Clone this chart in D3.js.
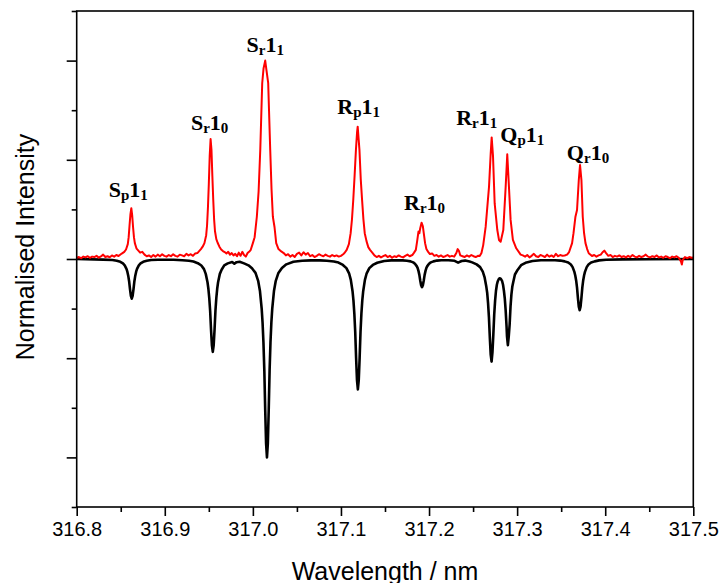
<!DOCTYPE html>
<html>
<head>
<meta charset="utf-8">
<script src="https://cdn.jsdelivr.net/npm/d3@7"></script>
<style>
  html, body { margin: 0; padding: 0; background: #fff; }
  svg { display: block; }
</style>
</head>
<body>
<svg id="chart" width="721" height="583"></svg>
<script>
// Measured OH emission trace, [wavelength nm, normalised intensity]
const measuredTrace = [
  [316.800,0.005],[316.8025,0.010],[316.805,0.004],[316.8075,0.012],[316.810,0.008],[316.8125,0.014],[316.815,0.006],[316.8175,0.012],[316.820,0.010],[316.8225,0.016],[316.825,0.007],[316.8275,0.013],[316.830,0.022],[316.8325,0.010],[316.835,0.014],[316.8375,0.009],[316.840,0.018],[316.8425,0.012],[316.845,0.020],[316.8475,0.015],[316.850,0.024],
  [316.852,0.030],[316.854,0.036],[316.856,0.048],[316.858,0.075],[316.859,0.110],[316.860,0.170],[316.861,0.225],[316.862,0.256],[316.863,0.220],[316.864,0.160],[316.865,0.110],[316.866,0.080],[316.868,0.052],[316.870,0.042],[316.872,0.032],[316.8745,0.036],[316.877,0.022],[316.8795,0.014],
  [316.882,0.018],[316.8845,0.010],[316.887,0.020],[316.8895,0.012],[316.892,0.022],[316.8945,0.014],[316.897,0.024],[316.8995,0.016],[316.902,0.012],[316.9045,0.020],[316.907,0.014],[316.9095,0.024],[316.912,0.016],[316.9145,0.012],[316.917,0.022],[316.9195,0.018],[316.922,0.014],[316.9245,0.026],[316.927,0.018],[316.9295,0.024],[316.932,0.016],[316.9345,0.028],[316.937,0.030],[316.939,0.040],
  [316.941,0.050],[316.943,0.062],[316.945,0.080],[316.947,0.120],[316.948,0.170],[316.949,0.260],[316.950,0.380],[316.951,0.520],[316.952,0.605],[316.953,0.550],[316.954,0.420],[316.955,0.300],[316.956,0.200],[316.957,0.140],[316.9585,0.100],[316.960,0.082],[316.962,0.062],[316.964,0.048],[316.966,0.040],
  [316.968,0.035],[316.970,0.028],[316.972,0.036],[316.974,0.022],[316.976,0.030],[316.978,0.018],[316.980,0.026],[316.982,0.014],[316.984,0.032],[316.986,0.016],[316.988,0.036],[316.990,0.020],[316.992,0.012],[316.994,0.030],[316.996,0.038],
  [316.9975,0.045],[317.000,0.080],[317.002,0.110],[317.0045,0.213],[317.0065,0.340],[317.0084,0.550],[317.0106,0.886],[317.0121,0.960],[317.0140,1.000],[317.0155,0.950],[317.0174,0.886],[317.0197,0.550],[317.0212,0.350],[317.0227,0.213],[317.0246,0.160],[317.0265,0.080],[317.0291,0.050],[317.0322,0.038],
  [317.035,0.030],[317.0375,0.018],[317.040,0.024],[317.0425,0.012],[317.045,0.020],[317.0475,0.010],[317.050,0.026],[317.0525,0.032],[317.055,0.018],[317.0575,0.034],[317.060,0.022],[317.0625,0.030],[317.065,0.014],[317.0675,0.020],[317.070,0.010],[317.0725,0.016],[317.075,0.024],[317.0775,0.018],[317.080,0.014],[317.0825,0.022],[317.085,0.016],[317.0875,0.012],[317.090,0.020],[317.0925,0.014],[317.095,0.018],[317.0975,0.012],[317.100,0.016],[317.1025,0.024],
  [317.104,0.030],[317.1065,0.046],[317.109,0.075],[317.111,0.130],[317.1125,0.200],[317.114,0.300],[317.1155,0.420],[317.117,0.550],[317.1183,0.640],[317.119,0.667],[317.1198,0.620],[317.121,0.550],[317.1225,0.400],[317.124,0.297],[317.1255,0.200],[317.127,0.130],[317.129,0.090],[317.131,0.060],[317.133,0.046],[317.136,0.030],
  [317.138,0.018],[317.1405,0.010],[317.143,0.016],[317.1455,0.008],[317.148,0.014],[317.1505,0.020],[317.153,0.010],[317.1555,0.016],[317.158,0.006],[317.1605,0.014],[317.163,0.010],[317.1655,0.018],[317.168,0.012],[317.1705,0.008],[317.173,0.016],[317.1755,0.022],[317.178,0.014],[317.181,0.020],
  [317.183,0.032],[317.185,0.046],[317.1865,0.090],[317.188,0.138],[317.189,0.130],[317.190,0.155],[317.1915,0.183],[317.193,0.165],[317.194,0.130],[317.1955,0.080],[317.197,0.050],[317.199,0.036],[317.201,0.025],[317.2035,0.028],[317.206,0.016],
  [317.2085,0.020],[317.211,0.012],[317.2135,0.018],[317.216,0.010],[317.2185,0.014],[317.221,0.020],[317.2235,0.012],[317.226,0.016],[317.2285,0.012],[317.231,0.030],[317.2325,0.050],[317.234,0.040],[317.2355,0.018],[317.238,0.014],[317.2405,0.010],[317.243,0.018],[317.2455,0.012],[317.248,0.020],[317.2505,0.014],[317.253,0.010],[317.2555,0.016],
  [317.2575,0.015],[317.2595,0.030],[317.2615,0.070],[317.2643,0.163],[317.2681,0.365],[317.2700,0.533],[317.2711,0.613],[317.2726,0.520],[317.2745,0.280],[317.2775,0.146],[317.2794,0.096],[317.2813,0.087],[317.2843,0.146],[317.2870,0.365],[317.2888,0.528],[317.2907,0.365],[317.2926,0.197],[317.2952,0.096],[317.2990,0.054],[317.3040,0.022],
  [317.3065,0.018],[317.309,0.012],[317.3115,0.020],[317.314,0.008],[317.3165,0.016],[317.319,0.026],[317.3215,0.014],[317.324,0.010],[317.3265,0.020],[317.329,0.016],[317.3315,0.010],[317.334,0.022],[317.3365,0.012],[317.339,0.018],[317.3415,0.010],[317.344,0.026],[317.3465,0.014],[317.349,0.020],[317.3515,0.016],[317.354,0.018],
  [317.3567,0.022],[317.359,0.035],[317.3624,0.080],[317.364,0.130],[317.3662,0.213],[317.3680,0.247],[317.3700,0.398],[317.3714,0.474],[317.3730,0.398],[317.3745,0.213],[317.376,0.130],[317.3776,0.080],[317.3795,0.050],[317.3813,0.029],[317.3850,0.015],
  [317.3875,0.020],[317.390,0.012],[317.3925,0.018],[317.395,0.022],[317.397,0.034],[317.399,0.042],[317.401,0.030],[317.4035,0.016],[317.406,0.020],[317.4085,0.010],[317.411,0.016],[317.4135,0.012],[317.416,0.018],[317.4185,0.010],[317.421,0.014],[317.4235,0.008],[317.426,0.016],[317.4285,0.010],[317.431,0.020],[317.4335,0.012],[317.436,0.008],[317.4385,0.016],[317.441,0.010],[317.4435,0.014],[317.446,0.022],[317.4485,0.012],[317.451,0.008],[317.4535,0.014],[317.456,0.010],[317.4585,0.018],[317.461,0.008],[317.4635,0.012],[317.466,0.006],[317.4685,0.014],[317.471,0.010],[317.4735,0.004],[317.476,0.012],[317.4785,0.008],[317.481,0.014],[317.4835,0.006],[317.486,-0.012],[317.487,-0.028],[317.488,-0.004],[317.4905,0.010],[317.493,0.004],[317.4955,0.010],[317.498,0.006],[317.500,0.008]
];

// Simulated spectrum, plotted inverted below the baseline
const simulatedTrace = [
  [316.800,0.000],[316.830,-0.003],[316.8405,-0.005],[316.8455,-0.009],[316.8495,-0.014],[316.8525,-0.022],[316.8545,-0.032],[316.8565,-0.050],[316.8575,-0.064],[316.8585,-0.084],[316.8595,-0.112],[316.8605,-0.152],[316.8615,-0.186],[316.8625,-0.200],[316.8635,-0.186],[316.8645,-0.152],[316.8655,-0.112],[316.8665,-0.084],[316.8675,-0.064],[316.8685,-0.050],[316.8705,-0.032],[316.8725,-0.022],[316.8755,-0.014],[316.8795,-0.009],[316.8845,-0.005],
  [316.8925,-0.004],[316.900,-0.004],[316.910,-0.004],[316.920,-0.006],[316.9275,-0.009],[316.9325,-0.013],
  [316.9375,-0.021],[316.9415,-0.033],[316.9445,-0.051],[316.9465,-0.075],[316.9485,-0.117],[316.9495,-0.150],[316.9505,-0.197],[316.9515,-0.262],[316.9525,-0.356],[316.9535,-0.435],[316.9545,-0.468],[316.9555,-0.435],[316.9565,-0.356],[316.9575,-0.262],[316.9585,-0.197],[316.9595,-0.150],[316.9605,-0.117],[316.9625,-0.075],[316.9645,-0.054],
  [316.9675,-0.032],[316.9715,-0.022],[316.9765,-0.015],[316.979,-0.024],[316.9815,-0.016],[316.985,-0.014],[316.990,-0.022],[316.995,-0.032],[316.999,-0.047],[317.003,-0.070],[317.006,-0.110],[317.008,-0.160],[317.010,-0.250],[317.011,-0.320],[317.012,-0.420],[317.013,-0.560],[317.014,-0.760],[317.015,-0.930],[317.016,-1.000],[317.017,-0.930],[317.018,-0.760],[317.019,-0.560],[317.020,-0.420],[317.021,-0.320],[317.022,-0.250],[317.024,-0.160],[317.026,-0.110],[317.029,-0.070],[317.033,-0.045],[317.038,-0.027],[317.046,-0.014],
  [317.056,-0.009],[317.066,-0.007],[317.076,-0.007],[317.084,-0.009],[317.092,-0.013],[317.0972,-0.018],
  [317.1022,-0.030],[317.1062,-0.046],[317.1092,-0.072],[317.1112,-0.105],[317.1132,-0.164],[317.1142,-0.210],[317.1152,-0.276],[317.1162,-0.368],[317.1172,-0.499],[317.1182,-0.611],[317.1192,-0.657],[317.1202,-0.611],[317.1212,-0.499],[317.1222,-0.368],[317.1232,-0.276],[317.1242,-0.210],[317.1252,-0.164],[317.1272,-0.105],[317.1292,-0.072],[317.1322,-0.046],[317.1362,-0.030],[317.1412,-0.019],
  [317.1492,-0.010],[317.157,-0.007],[317.165,-0.007],[317.170,-0.007],
  [317.175,-0.009],[317.179,-0.012],[317.182,-0.017],[317.184,-0.024],[317.186,-0.036],[317.187,-0.045],[317.188,-0.060],[317.189,-0.080],[317.190,-0.108],[317.191,-0.132],[317.192,-0.142],[317.193,-0.132],[317.194,-0.108],[317.195,-0.080],[317.196,-0.060],[317.197,-0.045],[317.198,-0.036],[317.200,-0.024],[317.202,-0.017],[317.205,-0.012],[317.209,-0.008],
  [317.214,-0.006],[317.222,-0.006],[317.229,-0.009],[317.233,-0.018],[317.237,-0.010],[317.241,-0.008],[317.246,-0.013],[317.249,-0.017],
  [317.254,-0.027],[317.258,-0.041],[317.261,-0.064],[317.263,-0.091],[317.265,-0.139],[317.266,-0.170],[317.267,-0.222],[317.268,-0.294],[317.269,-0.395],[317.270,-0.482],[317.271,-0.517],[317.272,-0.470],[317.273,-0.380],[317.274,-0.280],[317.275,-0.210],[317.276,-0.160],[317.277,-0.130],[317.278,-0.112],[317.2795,-0.099],[317.2805,-0.097],[317.2815,-0.100],[317.283,-0.112],[317.284,-0.130],[317.285,-0.160],[317.286,-0.200],[317.287,-0.260],[317.288,-0.340],[317.2885,-0.390],[317.2895,-0.434],[317.2905,-0.390],[317.2915,-0.330],[317.2925,-0.240],[317.2935,-0.180],[317.2945,-0.140],[317.2955,-0.118],[317.2975,-0.078],[317.3005,-0.055],[317.3045,-0.031],[317.3095,-0.019],
  [317.3175,-0.010],[317.327,-0.006],[317.335,-0.006],[317.343,-0.006],[317.349,-0.008],
  [317.354,-0.012],[317.358,-0.018],[317.361,-0.028],[317.363,-0.041],[317.365,-0.065],[317.366,-0.083],[317.367,-0.108],[317.368,-0.144],[317.369,-0.196],[317.370,-0.240],[317.371,-0.258],[317.372,-0.240],[317.373,-0.196],[317.374,-0.144],[317.375,-0.108],[317.376,-0.083],[317.377,-0.065],[317.379,-0.041],[317.381,-0.028],[317.384,-0.018],[317.388,-0.012],[317.393,-0.007],[317.401,-0.004],[317.420,-0.002],[317.450,-0.001],[317.500,0.000]
];

// Line assignments: branch letter, branch subscript, level, level subscript
const lineBranch   = ["S", "S", "S", "R", "R", "R", "Q", "Q"];
const branchSub    = ["p", "r", "r", "p", "r", "r", "p", "r"];
const lineLevel    = ["1", "1", "1", "1", "1", "1", "1", "1"];
const levelSub     = ["1", "0", "1", "1", "0", "1", "1", "0"];
const lineCentre   = [316.862, 316.952, 317.014, 317.119, 317.1915, 317.2711, 317.2888, 317.3714];
const linePeak     = [0.256, 0.605, 1.000, 0.667, 0.183, 0.613, 0.528, 0.474];

// Axis ticks
const xMajorTicks = [316.8, 316.9, 317.0, 317.1, 317.2, 317.3, 317.4, 317.5];
const xMinorTicks = [316.85, 316.95, 317.05, 317.15, 317.25, 317.35, 317.45];
const yMajorTicks = [-1.0, -0.5, 0, 0.5, 1.0];
const yMinorTicks = [-1.25, -0.75, -0.25, 0.25, 0.75, 1.25];

// Layout
const W = 721, H = 583;
const plot = { left: 76.7, right: 693.3, top: 11, bottom: 507 };
// label nudges (px) relative to the peak top: horizontal shift of label centre, gap above peak
const labelNudge = [[-3, 11], [-1, 9], [0, 9], [1, 12.5], [3, 13], [-15, 12], [15, 12], [8, 5]];

const svg = d3.select("#chart");

const x = d3.scaleLinear().domain([316.8, 317.5]).range([plot.left, plot.right]);
const y = d3.scaleLinear().domain([-1.25, 1.25]).range([plot.bottom, plot.top]);

svg.append("defs").append("clipPath").attr("id", "plotClip")
  .append("rect")
  .attr("x", plot.left).attr("y", plot.top)
  .attr("width", plot.right - plot.left).attr("height", plot.bottom - plot.top);

const line = d3.line().x(d => x(d[0])).y(d => y(d[1]));

const traces = svg.append("g").attr("clip-path", "url(#plotClip)");
traces.append("path")
  .datum(simulatedTrace)
  .attr("d", line)
  .attr("fill", "none")
  .attr("stroke", "#000")
  .attr("stroke-width", 2.6)
  .attr("stroke-linejoin", "round");
traces.append("path")
  .datum(measuredTrace)
  .attr("d", line)
  .attr("fill", "none")
  .attr("stroke", "#ff0000")
  .attr("stroke-width", 2)
  .attr("stroke-linejoin", "round");

// Axes
const axisStroke = 1.6;
const tickFont = "'Liberation Sans', Arial, sans-serif";

const xAxis = svg.append("g").attr("transform", `translate(0,${plot.bottom})`)
  .call(d3.axisBottom(x).tickValues(xMajorTicks).tickSize(9).tickSizeOuter(0).tickPadding(6)
    .tickFormat(d3.format(".1f")));
const xMinor = svg.append("g").attr("transform", `translate(0,${plot.bottom})`)
  .call(d3.axisBottom(x).tickValues(xMinorTicks).tickSize(5).tickSizeOuter(0).tickFormat(""));
const yAxis = svg.append("g").attr("transform", `translate(${plot.left},0)`)
  .call(d3.axisLeft(y).tickValues(yMajorTicks).tickSize(10).tickSizeOuter(0).tickFormat(""));
const yMinor = svg.append("g").attr("transform", `translate(${plot.left},0)`)
  .call(d3.axisLeft(y).tickValues(yMinorTicks).tickSize(5).tickSizeOuter(0).tickFormat(""));

[xAxis, xMinor, yAxis, yMinor].forEach(g => {
  g.select(".domain").remove();
  g.selectAll(".tick line").attr("stroke", "#000").attr("stroke-width", axisStroke);
});
xAxis.selectAll(".tick text")
  .attr("fill", "#000")
  .style("font-family", tickFont)
  .style("font-size", "20px");

// Frame
svg.append("rect")
  .attr("x", plot.left).attr("y", plot.top)
  .attr("width", plot.right - plot.left).attr("height", plot.bottom - plot.top)
  .attr("fill", "none").attr("stroke", "#000").attr("stroke-width", axisStroke);

// Axis titles
svg.append("text")
  .attr("x", (plot.left + plot.right) / 2).attr("y", 580)
  .attr("text-anchor", "middle")
  .style("font-family", tickFont).style("font-size", "25px")
  .text("Wavelength / nm");

svg.append("text")
  .attr("transform", `translate(34,${(plot.top + plot.bottom) / 2 - 12}) rotate(-90)`)
  .attr("text-anchor", "middle")
  .style("font-family", tickFont).style("font-size", "25px")
  .text("Normalised Intensity");

// Line labels
const labelFont = "'Liberation Serif', 'Times New Roman', serif";
lineBranch.forEach((b, i) => {
  const t = svg.append("text")
    .attr("x", x(lineCentre[i]) + labelNudge[i][0])
    .attr("y", y(linePeak[i]) - labelNudge[i][1])
    .attr("text-anchor", "middle")
    .style("font-family", labelFont)
    .style("font-weight", "bold")
    .style("font-size", "22px")
    .attr("fill", "#000");
  t.append("tspan").text(b);
  t.append("tspan").attr("dy", 3).style("font-size", "15px").text(branchSub[i]);
  t.append("tspan").attr("dy", -3).text(lineLevel[i]);
  t.append("tspan").attr("dy", 3).style("font-size", "15px").text(levelSub[i]);
});
</script>
</body>
</html>
